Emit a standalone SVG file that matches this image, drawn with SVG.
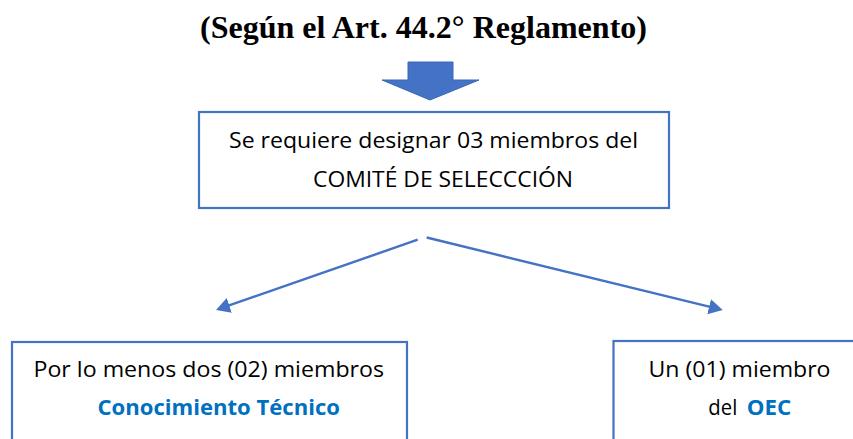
<svg xmlns="http://www.w3.org/2000/svg" width="853" height="439" viewBox="0 0 853 439">
<style>
.title{font-family:"Liberation Serif","Times New Roman",serif;font-weight:bold;font-size:32px;fill:#000}
.t{font-family:"Open Sans","Noto Sans",sans-serif;font-size:22px;fill:#000}
.b{font-family:"Open Sans","Noto Sans",sans-serif;font-size:22px;font-weight:bold;fill:#0070C0}
.box{fill:#fff;stroke:#4472C4;stroke-width:2.2}
.con{stroke:#4472C4;stroke-width:2.4;fill:none}
</style>
<defs>
<marker id="ah" markerUnits="userSpaceOnUse" markerWidth="15" markerHeight="16" refX="1" refY="7.75" orient="auto">
<path d="M0,0 L14,7.75 L0,15.5 z" fill="#4472C4"/>
</marker>
</defs>
<rect width="853" height="439" fill="#fff"/>
<text class="title" x="200" y="37.5" textLength="447" lengthAdjust="spacingAndGlyphs">(Según el Art. 44.2° Reglamento)</text>
<g id="bigArrow">
<polygon points="408,62 453,62 453,80 479,80 430,100 382,80 408,80" fill="#4472C4" stroke="#3B67B5" stroke-width="1"/>
</g>
<g id="nodeTop">
<rect class="box" x="199" y="112" width="470" height="96"/>
<text class="t" x="229" y="148" textLength="409" lengthAdjust="spacingAndGlyphs">Se requiere designar 03 miembros del</text>
<text class="t" x="313" y="187" textLength="260" lengthAdjust="spacingAndGlyphs">COMITÉ DE SELECCCIÓN</text>
</g>
<g id="nodeLeft">
<rect class="box" x="12" y="342" width="395" height="120"/>
<text class="t" x="33.5" y="377" textLength="350.5" lengthAdjust="spacingAndGlyphs">Por lo menos dos (02) miembros</text>
<text class="b" x="97.5" y="415" textLength="242.5" lengthAdjust="spacingAndGlyphs">Conocimiento Técnico</text>
</g>
<g id="nodeRight">
<rect class="box" x="613.5" y="341" width="260" height="120"/>
<text class="t" x="648.5" y="377" textLength="182" lengthAdjust="spacingAndGlyphs">Un (01) miembro</text>
<text class="t" x="708.3" y="415" textLength="29" lengthAdjust="spacingAndGlyphs">del</text>
<text class="b" x="746.7" y="415" textLength="44.5" lengthAdjust="spacingAndGlyphs">OEC</text>
</g>
<g id="connectors">
<line class="con" x1="417.7" y1="239.7" x2="228.3" y2="305.7" marker-end="url(#ah)"/>
<line class="con" x1="426.7" y1="237.5" x2="710.1" y2="306.9" marker-end="url(#ah)"/>
</g>
</svg>
